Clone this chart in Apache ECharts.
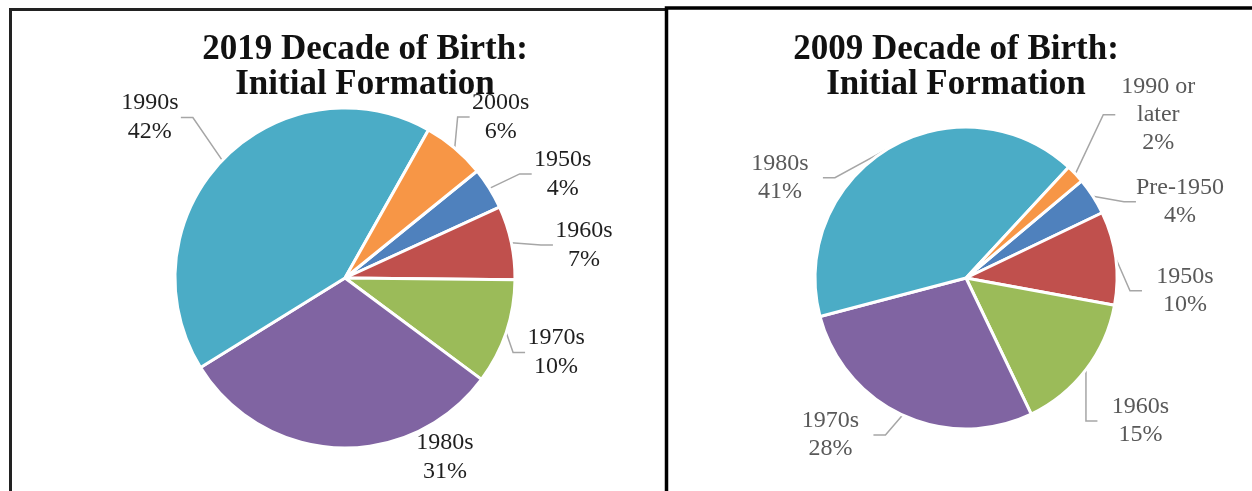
<!DOCTYPE html>
<html>
<head>
<meta charset="utf-8">
<title>Decade of Birth: Initial Formation</title>
<script src="https://cdn.jsdelivr.net/npm/echarts@6/dist/echarts.min.js"></script>
<style>
    html, body { margin: 0; padding: 0; background: #fff; }
    #main { width: 1252px; height: 491px; }
</style>
</head>
<body>
<div id="main"></div>
<script type="text/javascript">
    // 2019 pie, clockwise order from the first slice
    var names2019 = ['1950s', '1960s', '1970s', '1980s', '1990s', '2000s'];
    var values2019 = [4, 7, 10, 31, 42, 6];
    // 2009 pie
    var names2009 = ['Pre-1950', '1950s', '1960s', '1970s', '1980s', '1990 or later'];
    var values2009 = [4, 10, 15, 28, 41, 2];
    // office palette: blue, red, green, purple, aqua, orange
    var colors = ['#4F81BD', '#C0504D', '#9BBB59', '#8064A2', '#4BACC6', '#F79646'];

    // nudges for the labels (excel "best fit" puts them a bit differently)
    var nudge = [
        [[6, -14], [9, 2], [-17, 14], [156, -6], [-10, -29], [-15, -16]],
        [[-7, -25], [-9, 10], [-23, 38], [-3, 0], [-37, 48], [7, -44]]
    ];

    function makeData(names, values) {
        var arr = [];
        for (var i = 0; i < names.length; i++) {
            arr.push({ name: names[i], value: values[i], itemStyle: { color: colors[i] } });
        }
        return arr;
    }

    function labelFmt(p) {
        var nm = p.name === '1990 or later' ? '{t|1990 or}\n{t|later}' : '{t|' + p.name + '}';
        return nm + '\n{t|' + p.value + '%}';
    }

    function moveLabel(params) {
        var r = params.labelRect;
        var n = nudge[params.seriesIndex][params.dataIndex];
        return {
            x: r.x + r.width / 2 + n[0],
            y: r.y + r.height / 2 + n[1],
            align: 'center',
            verticalAlign: 'middle',
            hideOverlap: false
        };
    }

    var data2019 = makeData(names2019, values2019);
    data2019[3].labelLine = { show: false };  // 1980s label sits right under the pie
    var data2009 = makeData(names2009, values2009);

    var myChart = echarts.init(document.getElementById('main'));

    var titleStyle = {
        fontFamily: 'Liberation Serif',
        fontWeight: 'bold',
        fontSize: 35,
        lineHeight: 35,
        color: '#111'
    };

    var option = {
        animation: false,
        backgroundColor: '#fff',
        title: [
            {
                text: '2019 Decade of Birth:\nInitial Formation',
                left: 360, top: 27, textAlign: 'center',
                textStyle: titleStyle
            },
            {
                text: '2009 Decade of Birth:\nInitial Formation',
                left: 951, top: 27, textAlign: 'center',
                textStyle: titleStyle
            }
        ],
        graphic: [
            // left panel frame
            { type: 'polyline', shape: { points: [[10.5, 491], [10.5, 9.5], [666.5, 9.5]] },
              style: { stroke: '#222', lineWidth: 3, fill: null }, z: 10 },
            // right panel frame
            { type: 'polyline', shape: { points: [[666.5, 491], [666.5, 8], [1252, 8]] },
              style: { stroke: '#000', lineWidth: 3.5, fill: null }, z: 10 }
        ],
        series: [
            {
                type: 'pie',
                center: [345, 278],
                radius: 170,
                startAngle: 39,
                clockwise: true,
                avoidLabelOverlap: true,
                labelLayout: moveLabel,
                itemStyle: { borderColor: '#fff', borderWidth: 3 },
                label: {
                    show: true,
                    position: 'outside',
                    formatter: labelFmt,
                    fontFamily: 'Liberation Serif',
                    color: '#1f1f1f',
                    rich: { t: { fontFamily: 'Liberation Serif', fontSize: 24, lineHeight: 29, width: 62, align: 'center', color: '#1f1f1f' } }
                },
                labelLine: { show: true, length: 20, length2: 12, lineStyle: { color: '#A6A6A6', width: 1.5 } },
                emphasis: { disabled: true },
                data: data2019
            },
            {
                type: 'pie',
                center: [966, 278],
                radius: 151,
                startAngle: 40,
                clockwise: true,
                avoidLabelOverlap: true,
                labelLayout: moveLabel,
                itemStyle: { borderColor: '#fff', borderWidth: 3 },
                label: {
                    show: true,
                    position: 'outside',
                    formatter: labelFmt,
                    fontFamily: 'Liberation Serif',
                    color: '#595959',
                    rich: { t: { fontFamily: 'Liberation Serif', fontSize: 24, lineHeight: 28, width: 86, align: 'center', color: '#595959' } }
                },
                labelLine: { show: true, length: 22, length2: 12, lineStyle: { color: '#A6A6A6', width: 1.5 } },
                emphasis: { disabled: true },
                data: data2009
            }
        ]
    };

    myChart.setOption(option);
</script>
</body>
</html>
